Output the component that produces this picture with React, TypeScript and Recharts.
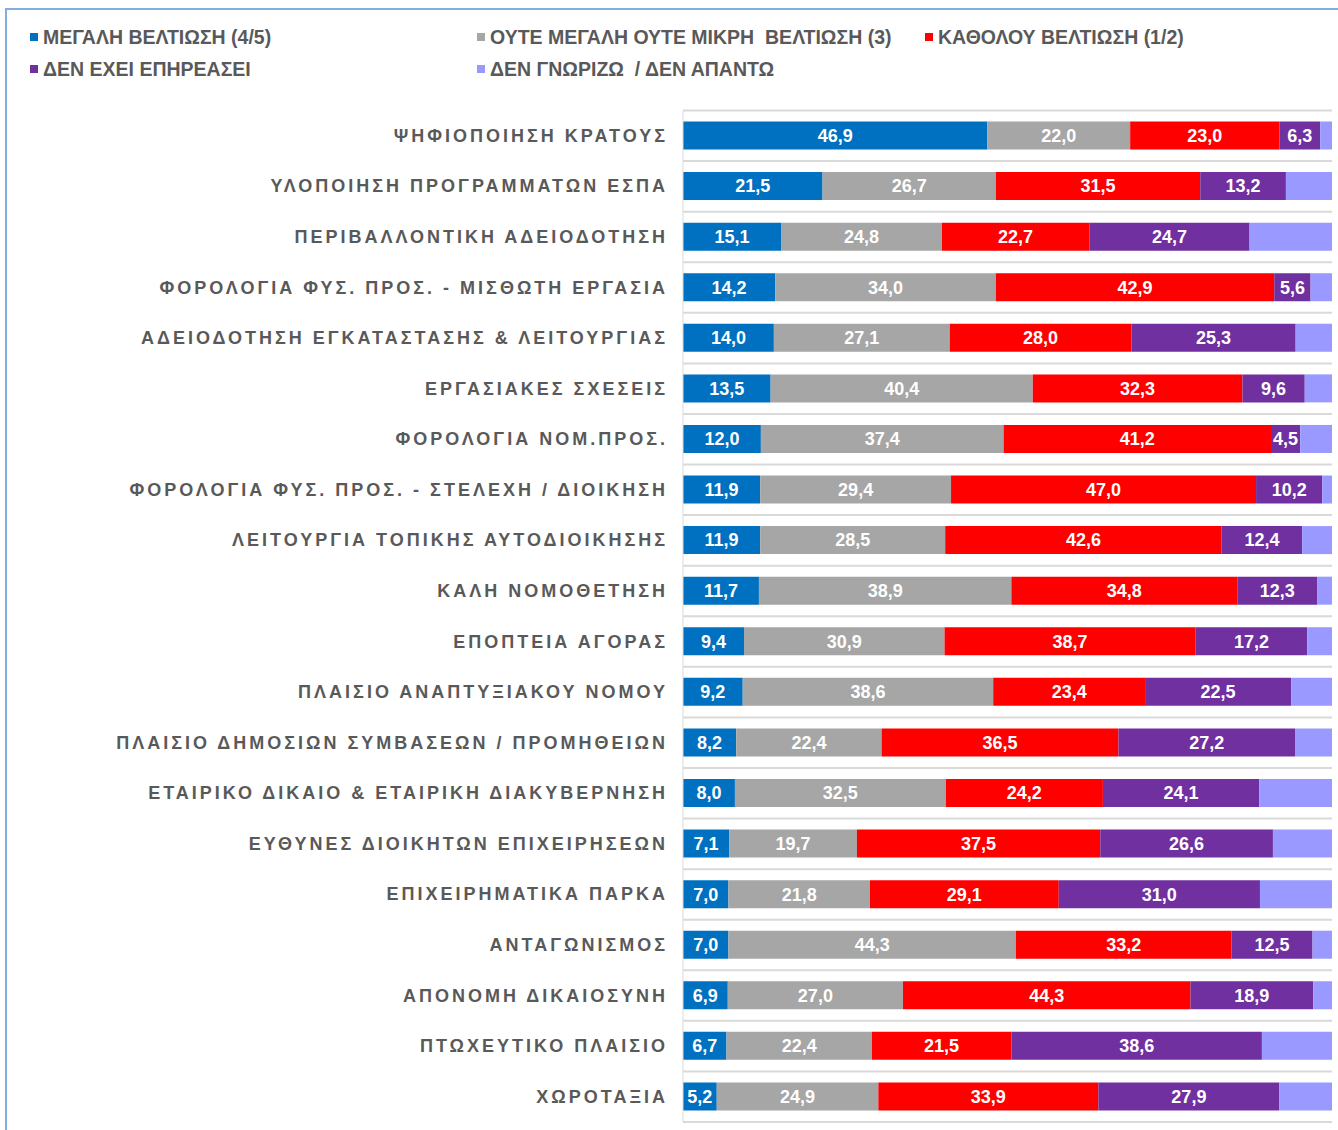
import React from 'react';
import { BarChart, Bar, XAxis, YAxis, CartesianGrid, LabelList, Legend } from 'recharts';

const categories = [
  'ΨΗΦΙΟΠΟΙΗΣΗ ΚΡΑΤΟΥΣ',
  'ΥΛΟΠΟΙΗΣΗ ΠΡΟΓΡΑΜΜΑΤΩΝ ΕΣΠΑ',
  'ΠΕΡΙΒΑΛΛΟΝΤΙΚΗ ΑΔΕΙΟΔΟΤΗΣΗ',
  'ΦΟΡΟΛΟΓΙΑ ΦΥΣ. ΠΡΟΣ. - ΜΙΣΘΩΤΗ ΕΡΓΑΣΙΑ',
  'ΑΔΕΙΟΔΟΤΗΣΗ ΕΓΚΑΤΑΣΤΑΣΗΣ & ΛΕΙΤΟΥΡΓΙΑΣ',
  'ΕΡΓΑΣΙΑΚΕΣ ΣΧΕΣΕΙΣ',
  'ΦΟΡΟΛΟΓΙΑ ΝΟΜ.ΠΡΟΣ.',
  'ΦΟΡΟΛΟΓΙΑ ΦΥΣ. ΠΡΟΣ. - ΣΤΕΛΕΧΗ / ΔΙΟΙΚΗΣΗ',
  'ΛΕΙΤΟΥΡΓΙΑ ΤΟΠΙΚΗΣ ΑΥΤΟΔΙΟΙΚΗΣΗΣ',
  'ΚΑΛΗ ΝΟΜΟΘΕΤΗΣΗ',
  'ΕΠΟΠΤΕΙΑ ΑΓΟΡΑΣ',
  'ΠΛΑΙΣΙΟ ΑΝΑΠΤΥΞΙΑΚΟΥ ΝΟΜΟΥ',
  'ΠΛΑΙΣΙΟ ΔΗΜΟΣΙΩΝ ΣΥΜΒΑΣΕΩΝ / ΠΡΟΜΗΘΕΙΩΝ',
  'ΕΤΑΙΡΙΚΟ ΔΙΚΑΙΟ & ΕΤΑΙΡΙΚΗ ΔΙΑΚΥΒΕΡΝΗΣΗ',
  'ΕΥΘΥΝΕΣ ΔΙΟΙΚΗΤΩΝ ΕΠΙΧΕΙΡΗΣΕΩΝ',
  'ΕΠΙΧΕΙΡΗΜΑΤΙΚΑ ΠΑΡΚΑ',
  'ΑΝΤΑΓΩΝΙΣΜΟΣ',
  'ΑΠΟΝΟΜΗ ΔΙΚΑΙΟΣΥΝΗ',
  'ΠΤΩΧΕΥΤΙΚΟ ΠΛΑΙΣΙΟ',
  'ΧΩΡΟΤΑΞΙΑ',
];

const greatImprovement = [46.9, 21.5, 15.1, 14.2, 14.0, 13.5, 12.0, 11.9, 11.9, 11.7, 9.4, 9.2, 8.2, 8.0, 7.1, 7.0, 7.0, 6.9, 6.7, 5.2];
const neitherImprovement = [22.0, 26.7, 24.8, 34.0, 27.1, 40.4, 37.4, 29.4, 28.5, 38.9, 30.9, 38.6, 22.4, 32.5, 19.7, 21.8, 44.3, 27.0, 22.4, 24.9];
const noImprovement = [23.0, 31.5, 22.7, 42.9, 28.0, 32.3, 41.2, 47.0, 42.6, 34.8, 38.7, 23.4, 36.5, 24.2, 37.5, 29.1, 33.2, 44.3, 21.5, 33.9];
const notAffected = [6.3, 13.2, 24.7, 5.6, 25.3, 9.6, 4.5, 10.2, 12.4, 12.3, 17.2, 22.5, 27.2, 24.1, 26.6, 31.0, 12.5, 18.9, 38.6, 27.9];
const dontKnow = [1.8, 7.1, 12.7, 3.3, 5.6, 4.2, 4.9, 1.5, 4.6, 2.3, 3.8, 6.3, 5.7, 11.2, 9.1, 11.1, 3.0, 2.9, 10.8, 8.1];

const seriesKeys = ['great', 'neither', 'none', 'notAffected', 'dontKnow'];
const seriesNames = [
  'ΜΕΓΑΛΗ ΒΕΛΤΙΩΣΗ (4/5)',
  'ΟΥΤΕ ΜΕΓΑΛΗ ΟΥΤΕ ΜΙΚΡΗ  ΒΕΛΤΙΩΣΗ (3)',
  'ΚΑΘΟΛΟΥ ΒΕΛΤΙΩΣΗ (1/2)',
  'ΔΕΝ ΕΧΕΙ ΕΠΗΡΕΑΣΕΙ',
  'ΔΕΝ ΓΝΩΡΙΖΩ  / ΔΕΝ ΑΠΑΝΤΩ',
];
const seriesColors = ['#0070C0', '#A6A6A6', '#FF0000', '#7030A0', '#9999FF'];
const seriesLabelled = [true, true, true, true, false];

const data = categories.map((name, i) => ({
  name,
  great: greatImprovement[i],
  neither: neitherImprovement[i],
  none: noImprovement[i],
  notAffected: notAffected[i],
  dontKnow: dontKnow[i],
}));

const FONT = "'Liberation Sans', Arial, Helvetica, sans-serif";
const TEXT_GRAY = '#595959';

const legendPos = [
  { left: 30, top: 26.5 },
  { left: 477, top: 26.5 },
  { left: 925, top: 26.5 },
  { left: 30, top: 59 },
  { left: 477, top: 59 },
];

const LegendContent = () => (
  <div style={{ position: 'relative', width: 1338, height: 100, fontFamily: FONT, fontWeight: 'bold', fontSize: 19.5, color: TEXT_GRAY }}>
    {seriesNames.map((n, i) => (
      <div key={n} style={{ position: 'absolute', left: legendPos[i].left, top: legendPos[i].top, height: 20, lineHeight: '20px', whiteSpace: 'pre' }}>
        <span style={{ position: 'absolute', left: 0, top: 6, width: 8, height: 8, background: seriesColors[i] }} />
        <span style={{ marginLeft: 13 }}>{n}</span>
      </div>
    ))}
  </div>
);

const CategoryTick = (props: any) => {
  const { x, y, payload } = props;
  return (
    <text x={x} y={y} textAnchor="end" dominantBaseline="central" fill={TEXT_GRAY} fontSize={18} fontWeight="bold" letterSpacing={3} fontFamily={FONT}>
      {payload.value}
    </text>
  );
};

const fmt = (v: any) => (typeof v === 'number' ? v.toFixed(1).replace('.', ',') : v);

const gridGen = (args: any) => {
  const off = args && args.offset ? args.offset : { top: 110, height: 1012 };
  const n = categories.length;
  const out: number[] = [];
  for (let i = 0; i <= n; i++) out.push(off.top + (off.height * i) / n);
  return out;
};

export default function App() {
  return (
    <div style={{ position: 'absolute', left: 0, top: 0, width: 1338, height: 1130, overflow: 'hidden', background: '#fff' }}>
      <div style={{ position: 'absolute', left: 5, top: 8, width: 1400, height: 1200, borderLeft: '2px solid #82AEDE', borderTop: '2px solid #82AEDE', boxSizing: 'border-box' }} />
      <div style={{ position: 'absolute', left: 0, top: 0 }}>
        <BarChart
          width={1338}
          height={1130}
          data={data}
          layout="vertical"
          margin={{ top: 10.5, right: 6, bottom: 8, left: 0 }}
          barSize={28}
        >
          <Legend verticalAlign="top" align="left" content={<LegendContent />} wrapperStyle={{ left: 0, top: 0, width: 1338, height: 100 }} />
          <CartesianGrid vertical={false} horizontal stroke="#D9D9D9" strokeWidth={2} horizontalCoordinatesGenerator={gridGen} />
          <XAxis type="number" domain={[0, 100]} hide allowDataOverflow />
          <YAxis
            type="category"
            dataKey="name"
            width={683}
            tickSize={0}
            tickMargin={15}
            tickLine={false}
            axisLine={{ stroke: '#D9D9D9', strokeWidth: 1 }}
            tick={<CategoryTick />}
            interval={0}
          />
          {seriesKeys.map((k, i) => (
            <Bar key={k} dataKey={k} name={seriesNames[i]} stackId="a" fill={seriesColors[i]} isAnimationActive={false}>
              {seriesLabelled[i] && (
                <LabelList dataKey={k} position="center" fill="#FFFFFF" fontSize={18} fontWeight="bold" fontFamily={FONT} formatter={fmt} />
              )}
            </Bar>
          ))}
        </BarChart>
      </div>
    </div>
  );
}
